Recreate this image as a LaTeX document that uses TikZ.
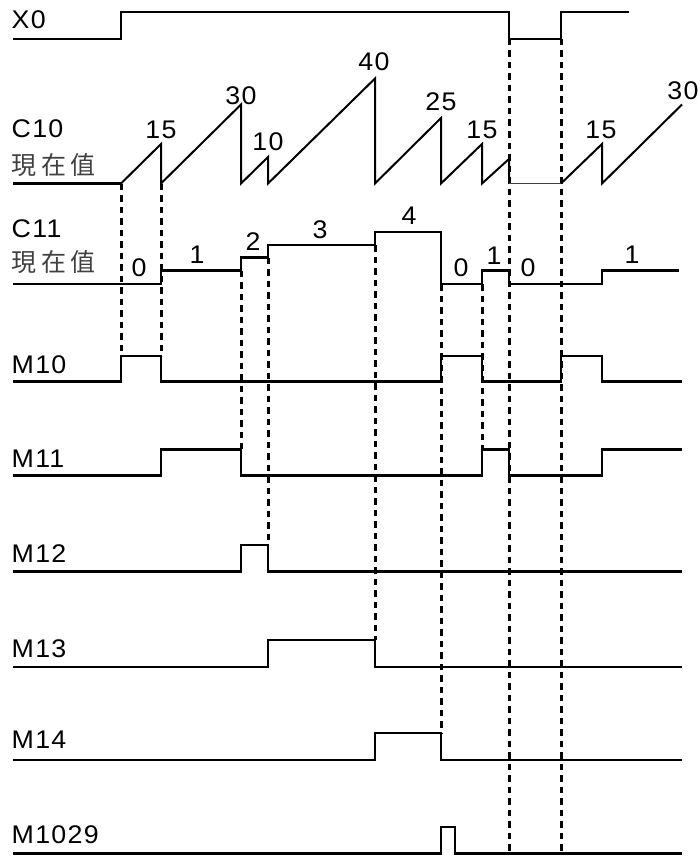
\documentclass[tikz,border=0pt]{standalone}
\usepackage{fontspec}
\newfontfamily\labfont{Liberation Sans}[FakeStretch=1.05, LetterSpace=5]
\newfontfamily\cjkfont{Noto Sans CJK TC}[LetterSpace=18]
\begin{document}
\begin{tikzpicture}[x=1pt,y=-1pt,
  sig/.style={line width=2.7pt, line join=miter},
  ramp/.style={line width=2pt, line join=miter},
  flat/.style={line width=1.6pt, black!75},
  guide/.style={line width=3pt, dash pattern=on 6.5pt off 5pt},
  lbl/.style={font=\labfont\fontsize{25.5}{26}\selectfont, inner sep=0pt, anchor=base west},
  cjk/.style={font=\cjkfont\fontsize{25}{26}\selectfont, inner sep=0pt, anchor=base west, text=black!75},
  val/.style={font=\labfont\fontsize{25.5}{26}\selectfont, inner sep=0pt}]
\useasboundingbox (0,0) rectangle (700,856);

% signal names
\node[lbl] (nX0) at (11.5,29) {X0};
\node[lbl] (nC10) at (11.5,137.5) {C10};
\node[cjk] (nC10b) at (11.5,174.5) {現在值};
\node[lbl] (nC11) at (11.5,237.5) {C11};
\node[cjk] (nC11b) at (11.5,271.5) {現在值};
\node[lbl] (nM10) at (11.5,373.5) {M10};
\node[lbl] (nM11) at (11.5,467.5) {M11};
\node[lbl] (nM12) at (11.5,562.5) {M12};
\node[lbl] (nM13) at (11.5,657.5) {M13};
\node[lbl] (nM14) at (11.5,748.5) {M14};
\node[lbl] (nM1029) at (11.5,843.5) {M1029};

% dashed guides
\draw[guide] (121,183.5) -- (121,356);
\draw[guide] (161,183.5) -- (161,356);
\draw[guide] (241,270.7) -- (241,449.3);
\draw[guide] (268,257.7) -- (268,545);
\draw[guide] (375,245) -- (375,640);
\draw[guide] (441,284) -- (441,733);
\draw[guide] (482,284) -- (482,449.3);
\draw[guide] (509,39) -- (509,853.5);
\draw[guide] (561,39) -- (561,853.5);

% X0
\draw[sig] (13,39) -- (121,39) -- (121,12) -- (509,12) -- (509,39) -- (561,39) -- (561,12) -- (629,12);

% C10
\draw[sig] (13,183.5) -- (121,183.5);
\draw[ramp] (121,183.5) -- (161,144) -- (161,183.5) -- (241,104.5) -- (241,183.5) -- (268,157) -- (268,183.5)
  -- (375,78.5) -- (375,183.5) -- (441,118) -- (441,183.5) -- (482,144) -- (482,183.5) -- (509,159) -- (509,183.5);
\draw[flat] (509,183.5) -- (561,183.5);
\draw[ramp] (561,183.5) -- (602,144) -- (602,183.5) -- (682,104.5);
\node[val] (v1) at (161,129.5) {15};
\node[val] (v2) at (241,96) {30};
\node[val] (v3) at (268,141.5) {10};
\node[val] (v4) at (374,62) {40};
\node[val] (v5) at (441,102) {25};
\node[val] (v6) at (482,129.5) {15};
\node[val] (v7) at (601,129.5) {15};
\node[val] (v8) at (683,91) {30};

% C11
\draw[sig] (13,284) -- (161,284) -- (161,270.7) -- (241,270.7) -- (241,257.7) -- (268,257.7) -- (268,245)
  -- (375,245) -- (375,232) -- (441,232) -- (441,284) -- (482,284) -- (482,270.7) -- (509,270.7)
  -- (509,284) -- (602,284) -- (602,270.7) -- (679,270.7);
\node[val] (c1) at (139,268) {0};
\node[val] (c2) at (197,255) {1};
\node[val] (c3) at (253,242) {2};
\node[val] (c4) at (320,229.5) {3};
\node[val] (c5) at (409,216) {4};
\node[val] (c6) at (461,268) {0};
\node[val] (c7) at (494,256) {1};
\node[val] (c8) at (528,268) {0};
\node[val] (c9) at (632,255) {1};

% M10
\draw[sig] (13,381.7) -- (121,381.7) -- (121,356) -- (161,356) -- (161,381.7) -- (441,381.7) -- (441,356)
  -- (482,356) -- (482,381.7) -- (561,381.7) -- (561,356) -- (602,356) -- (602,381.7) -- (682,381.7);
% M11
\draw[sig] (13,475.7) -- (161,475.7) -- (161,449.3) -- (241,449.3) -- (241,475.7) -- (482,475.7) -- (482,449.3)
  -- (509,449.3) -- (509,475.7) -- (602,475.7) -- (602,449.3) -- (682,449.3);
% M12
\draw[sig] (13,571.7) -- (241,571.7) -- (241,545) -- (268,545) -- (268,571.7) -- (682,571.7);
% M13
\draw[sig] (13,667) -- (268,667) -- (268,640) -- (375,640) -- (375,667) -- (682,667);
% M14
\draw[sig] (13,760) -- (375,760) -- (375,733) -- (441,733) -- (441,760) -- (682,760);
% M1029
\draw[sig] (13,853.5) -- (441,853.5) -- (441,827) -- (455,827) -- (455,853.5) -- (682,853.5);
\end{tikzpicture}
\end{document}
